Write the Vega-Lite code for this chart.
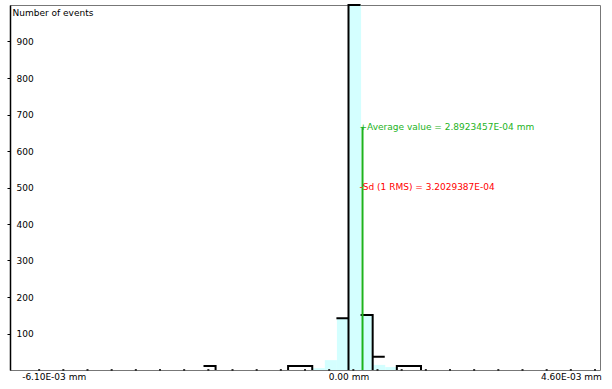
{
  "$schema": "https://vega.github.io/schema/vega-lite/v6.json",
  "width": 590,
  "height": 365,
  "padding": {"left": 10, "top": 5, "right": 12, "bottom": 19},
  "autosize": {"type": "none"},
  "config": {"view": {"stroke": "#777777", "strokeWidth": 1}, "font": "DejaVu Sans"},
  "datasets": {
    "fill": [
      {"x0": -0.00075, "x1": -0.0005, "n": 5},
      {"x0": -0.0005, "x1": -0.00025, "n": 27},
      {"x0": -0.00025, "x1": 0, "n": 142},
      {"x0": 0, "x1": 0.00025, "n": 1000},
      {"x0": 0.00025, "x1": 0.0005, "n": 151},
      {"x0": 0.0005, "x1": 0.00075, "n": 14},
      {"x0": 0.00075, "x1": 0.001, "n": 8}
    ],
    "outline": [
      {"g": "a", "seq": 1, "x": -0.003, "n": 11},
      {"g": "a", "seq": 2, "x": -0.00275, "n": 11},
      {"g": "a", "seq": 3, "x": -0.00275, "n": 0},
      {"g": "b", "seq": 1, "x": -0.00125, "n": 0},
      {"g": "b", "seq": 2, "x": -0.00125, "n": 11},
      {"g": "b", "seq": 3, "x": -0.00075, "n": 11},
      {"g": "b", "seq": 4, "x": -0.00075, "n": 0},
      {"g": "c", "seq": 1, "x": -0.00025, "n": 142},
      {"g": "c", "seq": 2, "x": 0, "n": 142},
      {"g": "c", "seq": 3, "x": 0, "n": 0},
      {"g": "c", "seq": 4, "x": 0, "n": 1000},
      {"g": "c", "seq": 5, "x": 0.00025, "n": 1000},
      {"g": "d", "seq": 1, "x": 0.00025, "n": 151},
      {"g": "d", "seq": 2, "x": 0.0005, "n": 151},
      {"g": "d", "seq": 3, "x": 0.0005, "n": 0},
      {"g": "d", "seq": 4, "x": 0.0005, "n": 36},
      {"g": "d", "seq": 5, "x": 0.00075, "n": 36},
      {"g": "e", "seq": 1, "x": 0.001, "n": 0},
      {"g": "e", "seq": 2, "x": 0.001, "n": 11},
      {"g": "e", "seq": 3, "x": 0.0015, "n": 11},
      {"g": "e", "seq": 4, "x": 0.0015, "n": 0}
    ],
    "minor": [
      {"t": -0.0064, "n": 0}, {"t": -0.0059, "n": 0}, {"t": -0.0054, "n": 0}, {"t": -0.0049, "n": 0},
      {"t": -0.0044, "n": 0}, {"t": -0.0039, "n": 0}, {"t": -0.0034, "n": 0}, {"t": -0.0029, "n": 0},
      {"t": -0.0024, "n": 0}, {"t": -0.0019, "n": 0}, {"t": -0.0014, "n": 0}, {"t": -0.0009, "n": 0},
      {"t": -0.0004, "n": 0}, {"t": 0.0001, "n": 0}, {"t": 0.0006, "n": 0}, {"t": 0.0011, "n": 0},
      {"t": 0.0016, "n": 0}, {"t": 0.0021, "n": 0}, {"t": 0.0026, "n": 0}, {"t": 0.0031, "n": 0},
      {"t": 0.0036, "n": 0}, {"t": 0.0041, "n": 0}, {"t": 0.0046, "n": 0}, {"t": 0.0051, "n": 0}
    ],
    "stats": [
      {"stat": "mean", "x": 0.00029, "n": 666, "label": "+Average value = 2.8923457E-04 mm"},
      {"stat": "sd", "x": 0.00029, "n": 501, "label": "-Sd (1 RMS) = 3.2029387E-04"}
    ]
  },
  "layer": [
    {
      "data": {"name": "fill"},
      "mark": {"type": "bar", "fill": "#d4ffff", "binSpacing": 0},
      "encoding": {
        "x": {
          "field": "x0", "type": "quantitative", "bin": "binned",
          "scale": {"domain": [-0.0069, 0.0051], "nice": false, "zero": false},
          "axis": {
            "orient": "bottom",
            "values": [-0.0061, 0, 0.0046],
            "labelExpr": "datum.value < -0.001 ? '-6.10E-03 mm' : datum.value > 0.001 ? '4.60E-03 mm' : '0.00 mm'",
            "labelOverlap": false,
            "labelFlush": false,
            "domain": false,
            "grid": false,
            "ticks": false,
            "labelFontSize": 9,
            "labelColor": "#000000",
            "labelPadding": 2,
            "title": null
          }
        },
        "x2": {"field": "x1"},
        "y": {
          "field": "n", "type": "quantitative",
          "scale": {"domain": [0, 1000], "nice": false},
          "axis": {
            "orient": "left",
            "values": [100, 200, 300, 400, 500, 600, 700, 800, 900],
            "format": "d",
            "labelAlign": "left",
            "labelPadding": -9,
            "labelFontSize": 9,
            "labelColor": "#000000",
            "tickSize": 3,
            "tickColor": "#000000",
            "domainColor": "#000000",
            "domainWidth": 1.5,
            "grid": false,
            "title": "Number of events",
            "titleAngle": 0,
            "titleX": 2,
            "titleY": 7,
            "titleAlign": "left",
            "titleBaseline": "middle",
            "titleFontSize": 9,
            "titleFontWeight": "normal",
            "titleColor": "#000000"
          }
        }
      }
    },
    {
      "data": {"name": "minor"},
      "mark": {"type": "square", "size": 4, "color": "#333333", "opacity": 1},
      "encoding": {
        "x": {"field": "t", "type": "quantitative"},
        "y": {"field": "n", "type": "quantitative"}
      }
    },
    {
      "data": {"name": "outline"},
      "mark": {"type": "line", "stroke": "#000000", "strokeWidth": 2},
      "encoding": {
        "x": {"field": "x", "type": "quantitative"},
        "y": {"field": "n", "type": "quantitative"},
        "detail": {"field": "g"},
        "order": {"field": "seq"}
      }
    },
    {
      "data": {"name": "stats"},
      "transform": [{"filter": "datum.stat == 'mean'"}],
      "mark": {"type": "bar", "fill": "#1db31d", "size": 2},
      "encoding": {
        "x": {"field": "x", "type": "quantitative"},
        "y": {"field": "n", "type": "quantitative"}
      }
    },
    {
      "data": {"name": "stats"},
      "mark": {"type": "text", "align": "left", "baseline": "middle", "dx": -3, "fontSize": 9},
      "encoding": {
        "x": {"field": "x", "type": "quantitative"},
        "y": {"field": "n", "type": "quantitative"},
        "text": {"field": "label"},
        "color": {"field": "stat", "type": "nominal", "scale": {"domain": ["mean", "sd"], "range": ["#1db31d", "#ff0000"]}, "legend": null}
      }
    }
  ]
}
